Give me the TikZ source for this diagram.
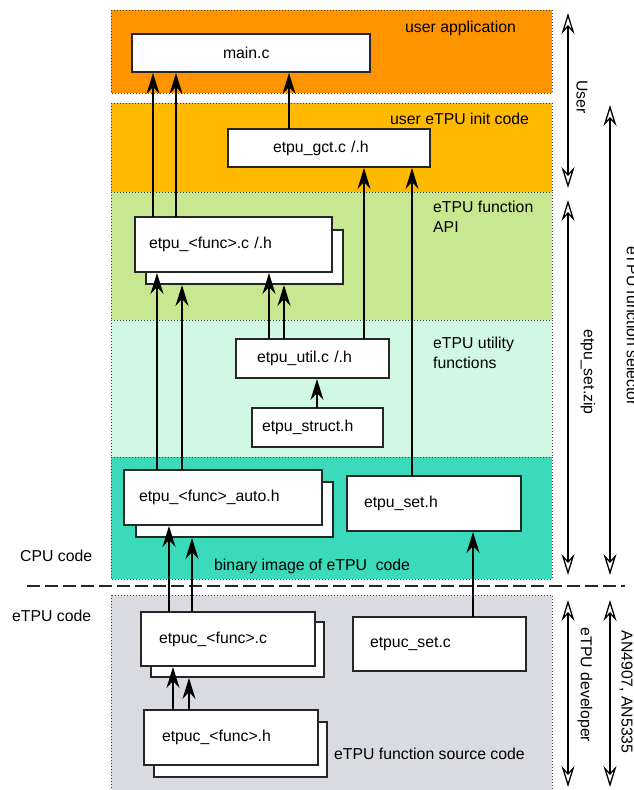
\documentclass[tikz,border=0pt]{standalone}
\usepackage{fontspec}
\setmainfont{Liberation Sans}
\usetikzlibrary{arrows.meta}
\definecolor{cOrange}{RGB}{253,148,0}
\definecolor{cYellow}{RGB}{255,185,0}
\definecolor{cGreen}{RGB}{199,232,144}
\definecolor{cMint}{RGB}{209,248,227}
\definecolor{cTeal}{RGB}{58,218,186}
\definecolor{cGray}{RGB}{217,219,224}
\begin{document}
\begin{tikzpicture}[x=1pt,y=-1pt,
  font=\fontsize{15.8}{20}\selectfont,
  band/.style={draw=black!75, line width=0.9pt, dash pattern=on 1pt off 2pt},
  box/.style={draw=black!85, line width=1.3pt, fill=white, anchor=north west,
              inner ysep=0pt, outer sep=0pt, align=left},
  arr/.style={line width=1.4pt, -{Stealth[length=21pt,width=13pt,inset=7pt]}, shorten >=1pt},
  darr/.style={line width=1.3pt,
    {Stealth[open,fill=white,length=21pt,width=13pt,inset=7pt]}-{Stealth[open,fill=white,length=21pt,width=13pt,inset=7pt]}},
  lbl/.style={anchor=west, inner sep=0pt, align=left},
  side/.style={rotate=-90, inner sep=0pt}]
\useasboundingbox (0,0) rectangle (634,790);

% bands
\path[band, fill=cOrange] (111,10) rectangle (552,93);
\path[band, fill=cYellow] (111,103) rectangle (552,192);
\path[band, fill=cGreen] (111,192) rectangle (552,320);
\path[band, fill=cMint] (111,320) rectangle (552,457);
\path[band, fill=cTeal] (111,457) rectangle (552,579);
\path[band, fill=cGray] (111,595) rectangle (552,800);

% band labels
\node[lbl] (lApp) at (405,28) {user application};
\node[lbl] (lInit) at (390,119) {user eTPU init code};
\node[lbl] (lApi) at (433,217) {eTPU function\\API};
\node[lbl] (lUtil) at (433,353) {eTPU utility\\functions};
\node[lbl] (lBin) at (214,566) {binary image of eTPU\ \ code};
\node[lbl] (lSrc) at (334,754) {eTPU function source code};
\node[lbl] (lCpu) at (20,556) {CPU code};
\node[lbl] (lEtpu) at (12,616) {eTPU code};

% dashed separator
\coordinate (dL) at (27,586);
\coordinate (dR) at (625,586);
\draw[line width=1.4pt, black!85, dash pattern=on 13pt off 5pt] (dL) -- (dR);

% boxes
\node[box, minimum width=238pt, minimum height=38pt, text width=56pt, inner xsep=91pt] (main) at (132,34) {main.c};
\node[box, minimum width=202pt, minimum height=38pt, text width=112pt, inner xsep=45pt] (gct) at (228,129) {etpu\_gct.c /.h};
\node[box, minimum width=197pt, minimum height=54pt, inner xsep=0pt] (funcB) at (146,230) {};
\node[box, minimum width=197pt, minimum height=55pt, text width=169pt, inner xsep=14pt] (funcF) at (135,217) {etpu\_<func>.c /.h};
\node[box, minimum width=153pt, minimum height=39pt, text width=111pt, inner xsep=21pt] (util) at (236,339) {etpu\_util.c /.h};
\node[box, minimum width=131pt, minimum height=39pt, text width=111pt, inner xsep=10pt] (struct) at (252,408) {etpu\_struct.h};
\node[box, minimum width=197pt, minimum height=55pt, inner xsep=0pt] (autoB) at (136,482) {};
\node[box, minimum width=198pt, minimum height=55pt, text width=168pt, inner xsep=15pt] (autoF) at (124,470) {etpu\_<func>\_auto.h};
\node[box, minimum width=174pt, minimum height=55pt, text width=140pt, inner xsep=17pt] (setH) at (347,476) {etpu\_set.h};
\node[box, minimum width=173pt, minimum height=55pt, inner xsep=0pt] (cB) at (151,622) {};
\node[box, minimum width=174pt, minimum height=54pt, text width=138pt, inner xsep=18pt] (cF) at (141,612) {etpuc\_<func>.c};
\node[box, minimum width=173pt, minimum height=54pt, text width=139pt, inner xsep=17pt] (setC) at (353,617) {etpuc\_set.c};
\node[box, minimum width=173pt, minimum height=55pt, inner xsep=0pt] (hB) at (154,722) {};
\node[box, minimum width=174pt, minimum height=55pt, text width=138pt, inner xsep=18pt] (hF) at (144,710) {etpuc\_<func>.h};

% arrow columns
\coordinate (xa) at (153,0);
\coordinate (xb) at (176,0);
\coordinate (xc) at (289,0);
\coordinate (xd) at (364,0);
\coordinate (xe) at (412,0);
\coordinate (xf) at (269,0);
\coordinate (xg) at (284,0);
\coordinate (xh) at (317,0);
\coordinate (xi) at (157,0);
\coordinate (xj) at (182,0);
\coordinate (xk) at (169,0);
\coordinate (xl) at (192,0);
\coordinate (xm) at (473,0);
\coordinate (xn) at (173,0);
\coordinate (xo) at (189,0);

% arrows
\draw[arr] (funcF.north -| xa) -- (main.south -| xa);
\draw[arr] (funcF.north -| xb) -- (main.south -| xb);
\draw[arr] (gct.north -| xc) -- (main.south -| xc);
\draw[arr] (util.north -| xd) -- (gct.south -| xd);
\draw[arr] (setH.north -| xe) -- (gct.south -| xe);
\draw[arr] (util.north -| xf) -- (funcF.south -| xf);
\draw[arr] (util.north -| xg) -- (funcB.south -| xg);
\draw[arr] (struct.north -| xh) -- (util.south -| xh);
\draw[arr] (autoF.north -| xi) -- (funcF.south -| xi);
\draw[arr] (autoF.north -| xj) -- (funcB.south -| xj);
\draw[arr] (cF.north -| xk) -- (autoF.south -| xk);
\draw[arr] (cF.north -| xl) -- (autoB.south -| xl);
\draw[arr] (setC.north -| xm) -- (setH.south -| xm);
\draw[arr] (hF.north -| xn) -- (cF.south -| xn);
\draw[arr] (hF.north -| xo) -- (cB.south -| xo);

% right side ranges
\coordinate (uT) at (568,13);
\coordinate (uB) at (568,188);
\coordinate (zT) at (568,200);
\coordinate (zB) at (568,575);
\coordinate (sT) at (610,105);
\coordinate (sB) at (610,575);
\coordinate (eT) at (568,600);
\coordinate (eB) at (568,787);
\coordinate (aT) at (610,600);
\coordinate (aB) at (610,787);
\draw[darr] (uT) -- (uB);
\draw[darr] (zT) -- (zB);
\draw[darr] (sT) -- (sB);
\draw[darr] (eT) -- (eB);
\draw[darr] (aT) -- (aB);
\node[side] (rUser) at (582,97) {User};
\node[side] (rZip) at (588,372) {etpu\_set.zip};
\node[side] (rSel) at (632.5,326) {eTPU function selector};
\node[side] (rDev) at (585,685) {eTPU developer};
\node[side] (rAN) at (626,692) {AN4907, AN5335};
\end{tikzpicture}
\end{document}
